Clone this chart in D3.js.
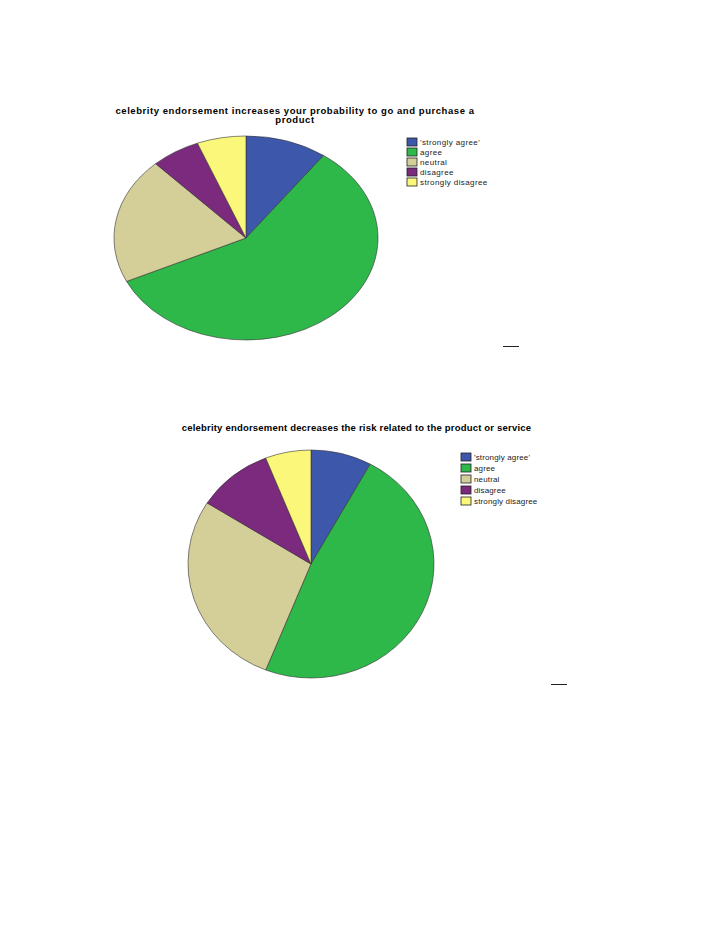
<!DOCTYPE html>
<meta charset="utf-8" />
<style>
  body { margin: 0; background: #fff; }
  .title { font: bold 9.5px Arial, "Liberation Sans", sans-serif; fill: #000; }
  .legend text { font: 8px Arial, "Liberation Sans", sans-serif; fill: #222; }
</style>
<svg width="728" height="942"></svg>
<script src="https://d3js.org/d3.v7.min.js"></script>
<script>
  // answer categories and colours (shared by both charts)
  var categories = ["'strongly agree'", "agree", "neutral", "disagree", "strongly disagree"];
  var colors = ["#3d58aa", "#2fb84a", "#d4cf99", "#7b2a7e", "#fbf77a"];

  // counts
  var purchaseCounts = [5, 29, 10, 3, 3];
  var riskCounts = [4, 24, 14, 5, 3];

  var purchaseTitle = ["celebrity endorsement increases your probability to go and purchase a", "product"];
  var riskTitle = ["celebrity endorsement decreases the risk related to the product or service"];

  var svg = d3.select("svg");
  var color = d3.scaleOrdinal().domain(categories).range(colors);

  function drawChart(opt) {
    var g = svg.append("g");

    // title
    g.selectAll("text.title")
      .data(opt.title)
      .enter()
      .append("text")
      .attr("class", "title")
      .attr("x", opt.titleX)
      .attr("y", (d, i) => opt.titleY + i * 9.5)
      .attr("text-anchor", "middle")
      .style("letter-spacing", opt.titleSpacing + "px")
      .text(d => d);

    // pie, drawn as a circle and squashed into an ellipse
    var data = opt.counts.map((v, i) => ({ cat: categories[i], value: v }));
    var pie = d3.pie().sort(null).value(d => d.value);
    var arc = d3.arc().innerRadius(0).outerRadius(100);

    g.append("g")
      .attr("transform", "translate(" + opt.cx + "," + opt.cy + ") scale(" + opt.rx / 100 + "," + opt.ry / 100 + ")")
      .selectAll("path")
      .data(pie(data))
      .enter()
      .append("path")
      .attr("d", arc)
      .attr("fill", d => color(d.data.cat))
      .attr("stroke", "#333")
      .attr("stroke-width", 0.6)
      .attr("vector-effect", "non-scaling-stroke");

    // legend
    var lg = g.append("g")
      .attr("class", "legend")
      .attr("transform", "translate(" + opt.lx + "," + opt.ly + ")");
    var row = lg.selectAll("g")
      .data(categories)
      .enter()
      .append("g")
      .attr("transform", (d, i) => "translate(0," + i * opt.lstep + ")");
    row.append("rect")
      .attr("width", 10)
      .attr("height", 8)
      .attr("fill", d => color(d))
      .attr("stroke", "#222")
      .attr("stroke-width", 0.8);
    row.append("text")
      .attr("x", 13)
      .attr("y", 7)
      .style("letter-spacing", opt.legendSpacing + "px")
      .text(d => d);

    // small mark at the bottom right
    g.append("line")
      .attr("x1", opt.mark[0])
      .attr("x2", opt.mark[0] + 16)
      .attr("y1", opt.mark[1])
      .attr("y2", opt.mark[1])
      .attr("stroke", "#222")
      .attr("stroke-width", 1);
  }

  drawChart({
    title: purchaseTitle, titleX: 295, titleY: 113.5, titleSpacing: 0.56,
    counts: purchaseCounts, cx: 246, cy: 238, rx: 132, ry: 102,
    lx: 407, ly: 138, lstep: 10, legendSpacing: 0.4, mark: [503, 346.5]
  });

  drawChart({
    title: riskTitle, titleX: 356.5, titleY: 431, titleSpacing: 0.2,
    counts: riskCounts, cx: 311, cy: 564, rx: 123, ry: 114,
    lx: 461, ly: 453, lstep: 11, legendSpacing: 0.15, mark: [551, 684.5]
  });
</script>
